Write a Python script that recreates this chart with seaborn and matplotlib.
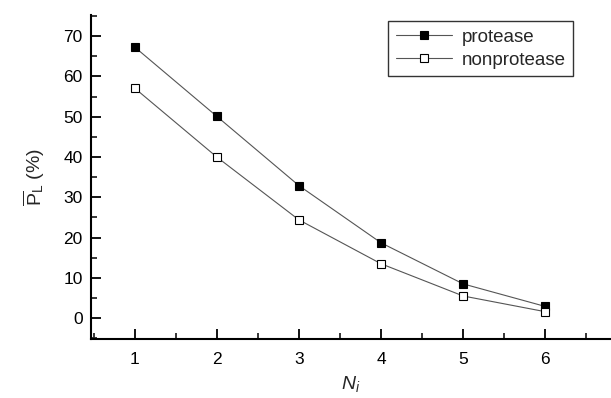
import numpy as np
import pandas as pd
import matplotlib
matplotlib.use('Agg')
import matplotlib.pyplot as plt
from matplotlib.ticker import MultipleLocator
import seaborn as sns

# data
n_i = [1, 2, 3, 4, 5, 6]
protease = [67.3, 50.1, 32.9, 18.7, 8.5, 2.9]
nonprotease = [57.1, 40.0, 24.4, 13.5, 5.5, 1.6]

df = pd.DataFrame({
    'Ni': n_i * 2,
    'PL': protease + nonprotease,
    'group': ['protease'] * len(n_i) + ['nonprotease'] * len(n_i),
})

sns.set_style('ticks')
plt.rcParams['font.family'] = ['Liberation Sans', 'DejaVu Sans']
plt.rcParams['mathtext.fontset'] = 'custom'
plt.rcParams['mathtext.rm'] = 'Liberation Sans'
plt.rcParams['mathtext.it'] = 'Liberation Sans:italic'

fig = plt.figure(figsize=(6.11, 3.98), dpi=100)
ax = fig.add_axes([0.149, 0.148, 0.851, 0.814])

styles = {'protease': 'black', 'nonprotease': 'white'}
for name, face in styles.items():
    sub = df[df['group'] == name]
    sns.lineplot(data=sub, x='Ni', y='PL', ax=ax, color='#555555', linewidth=0.8,
                 marker='s', markersize=5.3, markerfacecolor=face,
                 markeredgecolor='black', markeredgewidth=0.8, label=name)

ax.set_xlim(0.47, 6.8)
ax.set_ylim(-5.2, 75.2)
ax.xaxis.set_major_locator(MultipleLocator(1))
ax.xaxis.set_minor_locator(MultipleLocator(0.5))
ax.yaxis.set_major_locator(MultipleLocator(10))
ax.yaxis.set_minor_locator(MultipleLocator(5))
ax.tick_params(which='major', direction='in', length=7, width=1.3, labelsize=12.5, colors='black')
ax.tick_params(which='minor', direction='in', length=4, width=1.3)
ax.tick_params(axis='x', pad=9)
ax.tick_params(axis='y', pad=6)

for side in ['top', 'right']:
    ax.spines[side].set_visible(False)
for side in ['left', 'bottom']:
    ax.spines[side].set_linewidth(1.5)
    ax.spines[side].set_color('black')

ax.set_xlabel('$N_i$', fontsize=14, labelpad=5)
ax.set_ylabel(r'$\overline{\mathrm{P}}_{\mathrm{L}}$ (%)', fontsize=14, labelpad=12)

leg = ax.legend(loc='upper right', bbox_to_anchor=(0.945, 1.01), fontsize=13.5,
                frameon=True, fancybox=False, edgecolor='black',
                handlelength=3.0, handletextpad=0.5, borderpad=0.4, labelspacing=0.3)
leg.get_frame().set_linewidth(1.0)

fig.savefig('out.png', dpi=100)
